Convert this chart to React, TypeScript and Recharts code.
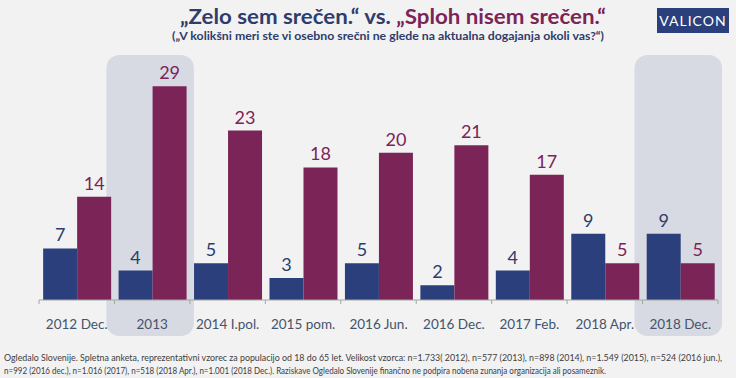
import { Bar, BarChart, LabelList, ReferenceArea, XAxis, YAxis } from "recharts";

const CATEGORIES = [
  "2012 Dec.",
  "2013",
  "2014 I.pol.",
  "2015 pom.",
  "2016 Jun.",
  "2016 Dec.",
  "2017 Feb.",
  "2018 Apr.",
  "2018 Dec.",
];
const ZELO = [7, 4, 5, 3, 5, 2, 4, 9, 9];
const SPLOH = [14, 29, 23, 18, 20, 21, 17, 5, 5];
const HIGHLIGHTED = ["2013", "2018 Dec."];

const FOOTER = [
  "Ogledalo Slovenije. Spletna anketa, reprezentativni vzorec za populacijo od 18 do 65 let. Velikost vzorca: n=1.733( 2012), n=577 (2013), n=898 (2014), n=1.549 (2015), n=524 (2016 jun.),",
  "n=992 (2016 dec.), n=1.016 (2017), n=518 (2018 Apr.), n=1.001 (2018 Dec.). Raziskave Ogledalo Slovenije finančno ne podpira nobena zunanja organizacija ali posameznik.",
];

const W = 736;
const H = 378;
const MARGIN = { top: 79, right: 18, left: 39, bottom: 48 };
const BAND = (W - MARGIN.left - MARGIN.right) / CATEGORIES.length;

const NAVY = "#2b3f7c";
const PURPLE = "#7b2458";
const NAVY_TEXT = "#2e3d6b";
const FONT = "Lato, 'Noto Sans', sans-serif";

const data = CATEGORIES.map((name, i) => ({ name, zelo: ZELO[i], sploh: SPLOH[i] }));

function HighlightBox(props: any) {
  const { x, y, width, height } = props;
  return (
    <rect
      x={x - 8}
      y={y - 24}
      width={width + 12}
      height={height + 60}
      rx={13}
      ry={13}
      fill="#d7dae2"
    />
  );
}

function CategoryTick(props: any) {
  const { x, y, payload, index } = props;
  const last = index === CATEGORIES.length - 1;
  return (
    <g>
      <line x1={x - BAND / 2} x2={x - BAND / 2} y1={y} y2={y + 4} stroke="#a6a6a6" />
      {last && <line x1={x + BAND / 2} x2={x + BAND / 2} y1={y} y2={y + 4} stroke="#a6a6a6" />}
      <text
        x={x}
        y={y + 29}
        textAnchor="middle"
        fill="#44546a"
        fontSize={13.5}
        fontFamily={FONT}
      >
        {payload.value}
      </text>
    </g>
  );
}

export default function App() {
  return (
    <div
      style={{
        position: "absolute",
        left: 0,
        top: 0,
        width: W,
        height: H,
        background: "#f2f2f2",
        overflow: "hidden",
      }}
    >
      <BarChart width={W} height={H} data={data} margin={MARGIN} barGap={0} barCategoryGap="5.5%">
        {HIGHLIGHTED.map((c) => (
          <ReferenceArea key={c} x1={c} x2={c} shape={HighlightBox} ifOverflow="visible" />
        ))}
        <XAxis
          dataKey="name"
          height={30}
          axisLine={{ stroke: "#a6a6a6" }}
          tickLine={false}
          tickSize={0}
          tickMargin={0}
          interval={0}
          tick={CategoryTick}
        />
        <YAxis hide domain={[0, 30]} />
        <Bar dataKey="zelo" fill={NAVY} isAnimationActive={false}>
          <LabelList dataKey="zelo" position="top" offset={7} fill={NAVY_TEXT} fontSize={18} fontFamily={FONT} />
        </Bar>
        <Bar dataKey="sploh" fill={PURPLE} isAnimationActive={false}>
          <LabelList dataKey="sploh" position="top" offset={7} fill={PURPLE} fontSize={18} fontFamily={FONT} />
        </Bar>
      </BarChart>
      <svg
        width={W}
        height={H}
        style={{ position: "absolute", left: 0, top: 0, pointerEvents: "none" }}
      >
        <text x={393} y={24} textAnchor="middle" fontFamily={FONT} fontWeight={700} fontSize={21} textLength={426} lengthAdjust="spacingAndGlyphs">
          <tspan fill={NAVY_TEXT}>„Zelo sem srečen.“ vs. </tspan>
          <tspan fill={PURPLE}>„Sploh nisem srečen.“</tspan>
        </text>
        <text x={388} y={40} textAnchor="middle" fontFamily={FONT} fontWeight={700} fontSize={12} fill={NAVY_TEXT} textLength={432} lengthAdjust="spacingAndGlyphs">
          („V kolikšni meri ste vi osebno srečni ne glede na aktualna dogajanja okoli vas?“)
        </text>
        <rect x={657} y={8} width={72} height={25} fill="#2b3f7c" />
        <text x={693} y={26} textAnchor="middle" fontFamily={FONT} fontSize={14} fill="#ffffff" letterSpacing={1}>
          VALICON
        </text>
        {FOOTER.map((line, i) => (
          <text
            key={i}
            x={4}
            y={361 + i * 13}
            fontFamily={FONT}
            fontSize={9}
            fill="#404040"
            textLength={i === 0 ? 718 : 602}
            lengthAdjust="spacingAndGlyphs"
          >
            {line}
          </text>
        ))}
      </svg>
    </div>
  );
}
